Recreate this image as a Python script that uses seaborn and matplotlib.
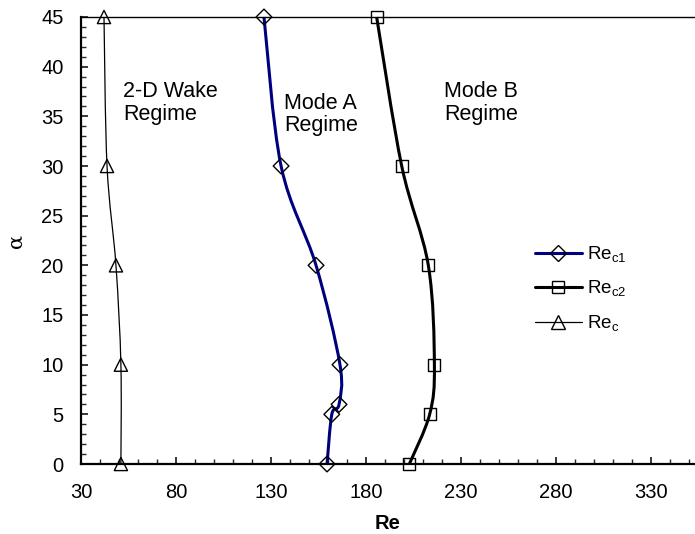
import numpy as np
import pandas as pd
import matplotlib
matplotlib.use("Agg")
import matplotlib.pyplot as plt
import seaborn as sns
from matplotlib.path import Path
from matplotlib.patches import PathPatch
from matplotlib.lines import Line2D

sns.set_style("ticks")
plt.rcParams['font.family'] = ['Liberation Sans', 'DejaVu Sans']
plt.rcParams['text.color'] = 'black'
plt.rcParams['axes.labelcolor'] = 'black'

# ---- data ----
alpha_c1 = [0, 5, 6, 10, 20, 30, 45]
re_c1 = [159.5, 162.0, 165.8, 166.3, 153.7, 135.3, 126.3]
alpha_c2 = [0, 5, 10, 20, 30, 45]
re_c2 = [202.8, 213.5, 216.0, 212.8, 198.8, 185.6]
alpha_c = [0, 10, 20, 30, 45]
re_c = [51.0, 51.0, 48.4, 43.7, 42.1]

x_ticks = [30, 80, 130, 180, 230, 280, 330]
y_ticks = [0, 5, 10, 15, 20, 25, 30, 35, 40, 45]


def smooth_path(xs, ys):
    """Excel-style smoothed line (Catmull-Rom Bezier) through data points."""
    P = np.column_stack([xs, ys]).astype(float)
    n = len(P)
    verts = [P[0]]
    codes = [Path.MOVETO]
    for i in range(n - 1):
        p0 = P[i - 1] if i > 0 else P[i]
        p1 = P[i]
        p2 = P[i + 1]
        p3 = P[i + 2] if i + 2 < n else P[i + 1]
        c1 = p1 + (p2 - p0) / 6.0
        c2 = p2 - (p3 - p1) / 6.0
        verts += [c1, c2, p2]
        codes += [Path.CURVE4] * 3
    return Path(verts, codes)


fig = plt.figure(figsize=(6.95, 5.34), dpi=100)
ax = fig.add_axes([81 / 695, 1 - 464 / 534, 1 - 81 / 695, (464 - 17) / 534])

series = [
    (re_c1, alpha_c1, '#00007f', 2.2, 'D', 8, r'Re$_{\mathregular{c1}}$'),
    (re_c2, alpha_c2, 'black', 2.2, 's', 8.5, r'Re$_{\mathregular{c2}}$'),
    (re_c, alpha_c, 'black', 0.9, '^', 9.5, r'Re$_{\mathregular{c}}$'),
]

handles = []
for xs, ys, col, lw, mk, ms, lab in series:
    ax.add_patch(PathPatch(smooth_path(xs, ys), fill=False, edgecolor=col,
                           lw=lw, zorder=2, clip_on=False))
    df = pd.DataFrame({'Re': xs, 'alpha': ys})
    sns.scatterplot(data=df, x='Re', y='alpha', marker=mk, s=ms ** 2,
                    facecolor='none', edgecolor='black', linewidth=1.0,
                    ax=ax, zorder=3, clip_on=False, legend=False)
    handles.append(Line2D([], [], color=col, lw=lw, marker=mk, markersize=ms,
                          markerfacecolor='none', markeredgecolor='black',
                          markeredgewidth=1.0, label=lab))

ax.set_xlim(30, 30 + (695 - 81) / 1.9)
ax.set_ylim(0, 45)
ax.set_xticks(x_ticks)
ax.set_yticks(y_ticks)
ax.set_xticks(np.arange(30, 354, 10), minor=True)
ax.set_yticks(np.arange(0, 46, 1), minor=True)
ax.tick_params(which='major', direction='in', length=5, width=1.1,
               labelsize=14.5, colors='black')
ax.tick_params(which='minor', direction='in', length=3.5, width=1.0)
ax.tick_params(axis='x', which='major', pad=14)
ax.tick_params(axis='y', which='major', pad=12.5)

ax.spines['right'].set_visible(False)
ax.spines['left'].set_linewidth(1.6)
ax.spines['bottom'].set_linewidth(1.6)
ax.spines['top'].set_linewidth(1.0)
for s in ax.spines.values():
    s.set_color('black')

ax.set_xlabel('Re', fontsize=14.5, fontweight='bold', labelpad=8.5, color='black')
ax.set_ylabel('α', fontsize=15, labelpad=11, family=['DejaVu Serif'], color='black')

# va='baseline' on multi-line text aligns the last line's baseline
ax.text(52.1, 34.64, '2-D Wake\nRegime', fontsize=15.5, ha='left', va='baseline',
        linespacing=1.1, color='black')
ax.text(136.8, 33.5, 'Mode A\nRegime', fontsize=15.5, ha='left', va='baseline',
        linespacing=1.1, color='black')
ax.text(221.0, 34.64, 'Mode B\nRegime', fontsize=15.5, ha='left', va='baseline',
        linespacing=1.1, color='black')

leg = ax.legend(handles=handles, loc='upper left',
                bbox_to_anchor=(535 / 695, 1 - 244.5 / 534),
                bbox_transform=fig.transFigure, frameon=False, fontsize=13.5,
                handlelength=2.5, handletextpad=0.25, labelspacing=0.75,
                borderpad=0, borderaxespad=0)
for t in leg.get_texts():
    t.set_color('black')

fig.savefig('out.png', dpi=100)
